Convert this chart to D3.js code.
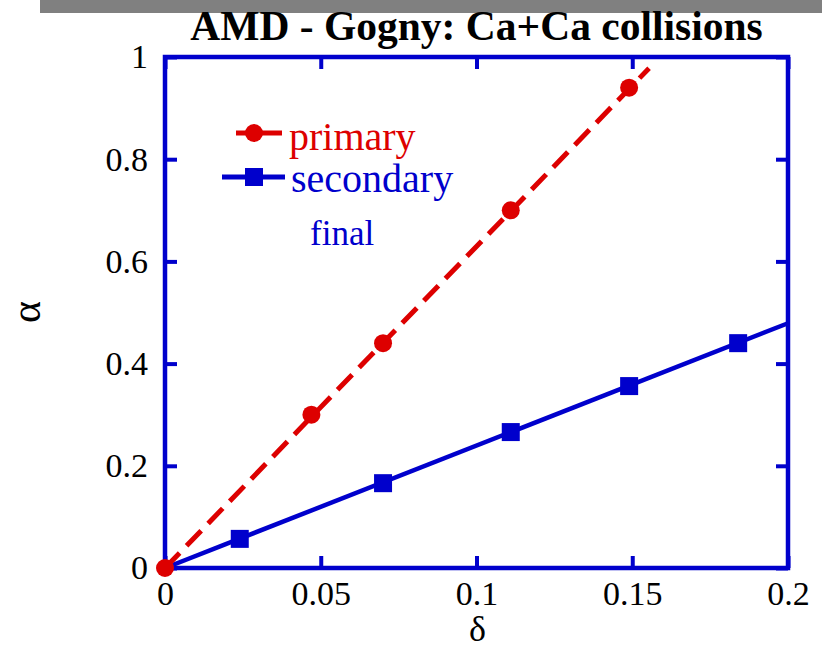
<!DOCTYPE html>
<html>
<head>
<meta charset="utf-8">
<script src="https://cdn.jsdelivr.net/npm/d3@7"></script>
<style>
  html, body { margin: 0; padding: 0; background: #fff; }
  svg { display: block; }
</style>
</head>
<body>
<script>
// ---- data ----
const titleText = "AMD - Gogny: Ca+Ca collisions";
const xTicks = [0, 0.05, 0.1, 0.15, 0.2];
const xTickLabels = ["0", "0.05", "0.1", "0.15", "0.2"];
const yTicks = [0, 0.2, 0.4, 0.6, 0.8, 1];
const yTickLabels = ["0", "0.2", "0.4", "0.6", "0.8", "1"];
const primaryDelta = [0, 0.047, 0.070, 0.111, 0.149];
const primaryAlpha = [0, 0.30, 0.44, 0.70, 0.94];
const secondaryDelta = [0.024, 0.070, 0.111, 0.149, 0.184];
const secondaryAlpha = [0.057, 0.166, 0.266, 0.356, 0.440];
const primaryFitDelta = [0, 0.1554];
const primaryFitAlpha = [0, 0.978];
const secondaryFitDelta = [0, 0.2];
const secondaryFitAlpha = [0, 0.479];
const legendLabels = ["primary", "secondary", "final"];

// ---- layout ----
const W = 822, H = 652;
const pL = 165, pR = 788, pT = 57, pB = 568;
const RED = "#dd0000", BLUE = "#0000cc";
const serif = "'Liberation Serif', 'Times New Roman', Times, serif";

const svg = d3.select("body").append("svg").attr("width", W).attr("height", H);

svg.append("rect").attr("x", 40).attr("y", 0).attr("width", W - 40).attr("height", 13).attr("fill", "#808080");

const x = d3.scaleLinear().domain([0, 0.2]).range([pL, pR]);
const y = d3.scaleLinear().domain([0, 1]).range([pB, pT]);

// title
svg.append("text").attr("x", (pL + pR) / 2).attr("y", 40)
  .attr("text-anchor", "middle").attr("font-family", serif).attr("font-weight", "bold")
  .attr("font-size", 41.5).text(titleText);

// axes (ticks inward on all four sides)
const tickLen = 12;
const fmtX = (d, i) => xTickLabels[i];
const fmtY = (d, i) => yTickLabels[i];
const axB = svg.append("g").attr("transform", `translate(0,${pB})`)
  .call(d3.axisBottom(x).tickValues(xTicks).tickFormat(fmtX).tickSizeInner(-tickLen).tickSizeOuter(0));
const axT = svg.append("g").attr("transform", `translate(0,${pT})`)
  .call(d3.axisTop(x).tickValues(xTicks).tickFormat("").tickSizeInner(-tickLen).tickSizeOuter(0));
const axL = svg.append("g").attr("transform", `translate(${pL},0)`)
  .call(d3.axisLeft(y).tickValues(yTicks).tickFormat(fmtY).tickSizeInner(-tickLen).tickSizeOuter(0));
const axR = svg.append("g").attr("transform", `translate(${pR},0)`)
  .call(d3.axisRight(y).tickValues(yTicks).tickFormat("").tickSizeInner(-tickLen).tickSizeOuter(0));
[axB, axT, axL, axR].forEach(g => {
  g.select(".domain").remove();
  g.selectAll(".tick line").attr("stroke", BLUE).attr("stroke-width", 4);
  g.selectAll("text").attr("font-family", serif).attr("font-size", 34).attr("fill", "#000");
});
axB.selectAll("text").attr("dy", 0).attr("y", 37);
axL.selectAll("text").attr("dy", "0.32em").attr("x", -17);
svg.append("rect").attr("x", pL).attr("y", pT).attr("width", pR - pL).attr("height", pB - pT)
  .attr("fill", "none").attr("stroke", BLUE).attr("stroke-width", 4.5);

// axis titles
svg.append("text").attr("transform", `translate(40,312) rotate(-90)`).attr("text-anchor", "middle")
  .attr("font-family", serif).attr("font-size", 42).text("α");
svg.append("text").attr("x", (pL + pR) / 2 + 1).attr("y", 641).attr("text-anchor", "middle")
  .attr("font-family", serif).attr("font-size", 36).text("δ");

// fit lines
const line = d3.line().x(d => x(d[0])).y(d => y(d[1]));
svg.append("path").datum(d3.zip(secondaryFitDelta, secondaryFitAlpha)).attr("d", line)
  .attr("fill", "none").attr("stroke", BLUE).attr("stroke-width", 4.5);
svg.append("path").datum(d3.zip(primaryFitDelta, primaryFitAlpha)).attr("d", line)
  .attr("fill", "none").attr("stroke", RED).attr("stroke-width", 5).attr("stroke-dasharray", "21,10");

// markers
const sq = 18;
svg.selectAll("rect.sec").data(d3.zip(secondaryDelta, secondaryAlpha)).join("rect").attr("class", "sec")
  .attr("x", d => x(d[0]) - sq / 2).attr("y", d => y(d[1]) - sq / 2).attr("width", sq).attr("height", sq).attr("fill", BLUE);
svg.selectAll("circle.pri").data(d3.zip(primaryDelta, primaryAlpha)).join("circle").attr("class", "pri")
  .attr("cx", d => x(d[0])).attr("cy", d => y(d[1])).attr("r", 9).attr("fill", RED);

// legend
svg.append("line").attr("x1", 236).attr("x2", 282).attr("y1", 133).attr("y2", 133).attr("stroke", RED).attr("stroke-width", 5);
svg.append("circle").attr("cx", 254).attr("cy", 133).attr("r", 9).attr("fill", RED);
svg.append("text").attr("x", 289).attr("y", 150).attr("font-family", serif).attr("font-size", 40).attr("fill", RED).text(legendLabels[0]);
svg.append("line").attr("x1", 222).attr("x2", 285).attr("y1", 177).attr("y2", 177).attr("stroke", BLUE).attr("stroke-width", 5);
svg.append("rect").attr("x", 254 - sq / 2).attr("y", 177 - sq / 2).attr("width", sq).attr("height", sq).attr("fill", BLUE);
svg.append("text").attr("x", 291).attr("y", 192).attr("font-family", serif).attr("font-size", 40).attr("fill", BLUE).text(legendLabels[1]);
svg.append("text").attr("x", 310).attr("y", 245).attr("font-family", serif).attr("font-size", 35).attr("fill", BLUE).text(legendLabels[2]);
</script>
</body>
</html>
